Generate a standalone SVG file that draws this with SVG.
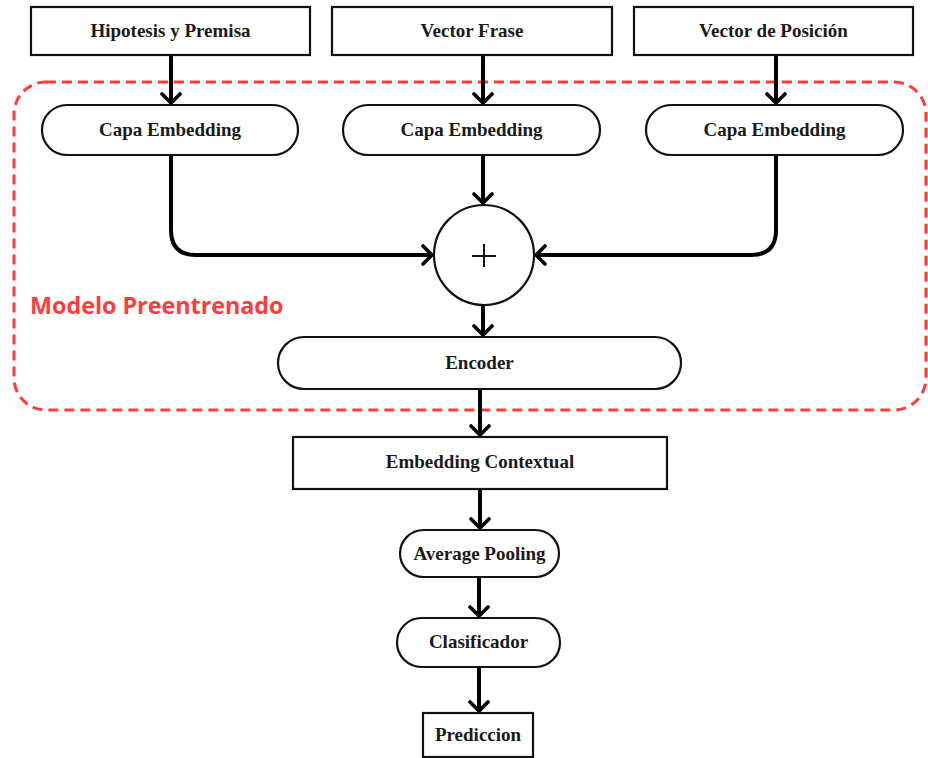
<svg xmlns="http://www.w3.org/2000/svg" width="928" height="758" viewBox="0 0 928 758">
  <style>
    .box { fill: #fff; stroke: #111; stroke-width: 2.2; }
    .lbl { font-family: "Liberation Serif", "DejaVu Serif", serif; font-weight: bold; font-size: 19px; fill: #1a1a1a; text-anchor: middle; dominant-baseline: central; }
    .wire { fill: none; stroke: #000; stroke-width: 4; marker-end: url(#chev); }
  </style>
  <defs>
    <!-- open chevron head, drawn along +x so orient="auto" follows the wire -->
    <marker id="chev" viewBox="0 0 14 22" refX="11" refY="11" markerWidth="14" markerHeight="22" markerUnits="userSpaceOnUse" orient="auto">
      <path d="M2 2 L11 11 L2 20" fill="none" stroke="#000" stroke-width="3.6" stroke-linecap="round" stroke-linejoin="round"/>
    </marker>
  </defs>

  <!-- pretrained model boundary -->
  <g id="modelo">
    <rect x="14" y="82" width="912" height="328" rx="32" fill="none" stroke="#ff3b3b" stroke-width="3" stroke-dasharray="10 6"/>
    <text x="30" y="305" font-family="'Open Sans', 'Noto Sans', sans-serif" font-weight="bold" font-size="23.3" fill="#ff3b3b" dominant-baseline="central">Modelo Preentrenado</text>
  </g>

  <!-- connectors -->
  <g id="connectors">
    <path class="wire" d="M171 55 V103"/>
    <path class="wire" d="M483 55 V103"/>
    <path class="wire" d="M776 55 V103"/>
    <path class="wire" d="M483 155 V203"/>
    <path class="wire" d="M171 155 V230 Q171 255 196 255 H432"/>
    <path class="wire" d="M776 155 V230 Q776 255 751 255 H536"/>
    <path class="wire" d="M483 305 V335"/>
    <path class="wire" d="M480 389 V435"/>
    <path class="wire" d="M480 489 V528"/>
    <path class="wire" d="M479 577 V616"/>
    <path class="wire" d="M479 667 V711"/>
  </g>

  <g id="hipotesis">
    <rect class="box" x="31" y="7" width="279" height="48"/>
    <text class="lbl" x="170.5" y="30">Hipotesis y Premisa</text>
  </g>
  <g id="vector-frase">
    <rect class="box" x="332" y="7" width="280" height="48"/>
    <text class="lbl" x="472" y="30">Vector Frase</text>
  </g>
  <g id="vector-posicion">
    <rect class="box" x="634" y="7" width="279" height="48"/>
    <text class="lbl" x="773.5" y="30">Vector de Posición</text>
  </g>

  <g id="embedding-1">
    <rect class="box" x="42" y="105" width="256" height="50" rx="25"/>
    <text class="lbl" x="170" y="129">Capa Embedding</text>
  </g>
  <g id="embedding-2">
    <rect class="box" x="343" y="105" width="257" height="50" rx="25"/>
    <text class="lbl" x="471.5" y="129">Capa Embedding</text>
  </g>
  <g id="embedding-3">
    <rect class="box" x="646" y="105" width="257" height="50" rx="25"/>
    <text class="lbl" x="774.5" y="129">Capa Embedding</text>
  </g>

  <g id="suma">
    <circle cx="484" cy="255" r="50" fill="#fff" stroke="#111" stroke-width="2.2"/>
    <path d="M472 256 H496 M484 244 V267" stroke="#111" stroke-width="2"/>
  </g>

  <g id="encoder">
    <rect class="box" x="278" y="337" width="403" height="52" rx="26"/>
    <text class="lbl" x="479.5" y="362">Encoder</text>
  </g>

  <g id="embedding-contextual">
    <rect class="box" x="293" y="437" width="374" height="52"/>
    <text class="lbl" x="480" y="461">Embedding Contextual</text>
  </g>

  <g id="average-pooling">
    <rect class="box" x="400" y="530" width="159" height="47" rx="23.5"/>
    <text class="lbl" x="479.5" y="553">Average Pooling</text>
  </g>

  <g id="clasificador">
    <rect class="box" x="397" y="618" width="163" height="49" rx="24.5"/>
    <text class="lbl" x="478.5" y="641">Clasificador</text>
  </g>

  <g id="prediccion">
    <rect class="box" x="423" y="713" width="110" height="44"/>
    <text class="lbl" x="478" y="734">Prediccion</text>
  </g>
</svg>
